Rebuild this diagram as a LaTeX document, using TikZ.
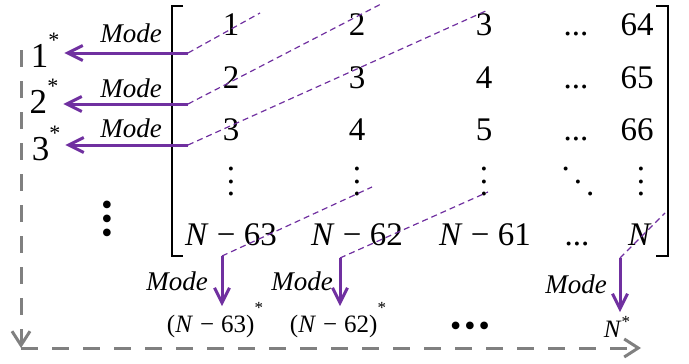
\documentclass[tikz,border=0pt]{standalone}
\usepackage{fontspec}
\setmainfont{Liberation Serif}
\usetikzlibrary{arrows.meta}
\definecolor{modepurple}{HTML}{7030A0}
\definecolor{loopgray}{HTML}{808080}
\newcommand{\vdts}{\vbox{\baselineskip=12.5pt\lineskiplimit=-100pt\hbox{.}\hbox{.}\hbox{.}}}
\newcommand{\ddts}{\hbox{\raisebox{12.5pt}{.}\kern4pt.\kern4pt\raisebox{-12.5pt}{.}}}
\newcommand{\bigvdts}{\vbox{\baselineskip=14pt\lineskiplimit=-100pt\hbox{•}\hbox{•}\hbox{•}}}
\newcommand{\supstar}[2]{\smash{\raisebox{#1}{\fontsize{#2}{#2}\selectfont *}}}
\newcommand{\wminus}{\hspace{0.28em}−\hspace{0.28em}}
\begin{document}
\begin{tikzpicture}[x=1pt, y=-1pt,
  ent/.style={font=\fontsize{33}{36}\selectfont, anchor=base, inner sep=0pt},
  modelbl/.style={font=\fontsize{27}{30}\selectfont\itshape, anchor=base, inner sep=0pt},
  outlbl/.style={font=\fontsize{25}{28}\selectfont, anchor=base},
  modearr/.style={draw=modepurple, line width=3pt, shorten >=5pt, -{Straight Barb[length=15pt,width=15pt]}},
  diag/.style={draw=modepurple, line width=1.2pt, dash pattern=on 6pt off 4pt},
  loopline/.style={draw=loopgray, line width=3pt, dash pattern=on 17pt off 14pt, -{Straight Barb[length=14pt,width=18pt]}}]
  \useasboundingbox (0,0) rectangle (689,364);
  % matrix
  \node[ent] (m11) at (231,35) {1};
  \node[ent] (m12) at (357,35) {2};
  \node[ent] (m13) at (484,35) {3};
  \node[ent] (m14) at (576,35) {...};
  \node[ent] (m15) at (637,35) {64};
  \node[ent] (m21) at (231,88) {2};
  \node[ent] (m22) at (357,88) {3};
  \node[ent] (m23) at (484,88) {4};
  \node[ent] (m24) at (576,88) {...};
  \node[ent] (m25) at (637,88) {65};
  \node[ent] (m31) at (231,140) {3};
  \node[ent] (m32) at (357,140) {4};
  \node[ent] (m33) at (484,140) {5};
  \node[ent] (m34) at (576,140) {...};
  \node[ent] (m35) at (637,140) {66};
  \node[ent, anchor=center] (m41) at (231,182) {\vdts};
  \node[ent, anchor=center] (m42) at (357,182) {\vdts};
  \node[ent, anchor=center] (m43) at (484,182) {\vdts};
  \node[ent, anchor=center] (m44) at (578,182) {\ddts};
  \node[ent, anchor=center] (m45) at (641,182) {\vdts};
  \node[ent] (m51) at (231,245) {\textit{N} − 63};
  \node[ent] (m52) at (357,245) {\textit{N} − 62};
  \node[ent] (m53) at (485,245) {\textit{N} − 61};
  \node[ent] (m54) at (577,245) {...};
  \node[ent] (m55) at (640,245) {\textit{N}};
  \draw[line width=1.4pt] (183,6) -- (172,6) -- (172,256) -- (183,256);
  \draw[line width=1.4pt] (656,6) -- (668,6) -- (668,256) -- (656,256);
  % left side
  \node[ent, font=\fontsize{35}{38}\selectfont] (s1) at (45,67) {1\supstar{20pt}{22}};
  \node[ent, font=\fontsize{35}{38}\selectfont] (s2) at (44,113) {2\supstar{20pt}{22}};
  \node[ent, font=\fontsize{35}{38}\selectfont] (s3) at (46,160) {3\supstar{20pt}{22}};
  \node[ent, anchor=center, font=\fontsize{32}{34}\selectfont] (sv) at (107,222) {\bigvdts};
  \coordinate (t1) at (188,53);
  \coordinate (t2) at (188,104);
  \coordinate (t3) at (188,145);
  \draw[modearr] (t1) -- (t1 -| s1.east);
  \draw[modearr] (t2) -- (t2 -| s2.east);
  \draw[modearr] (t3) -- (t3 -| s3.east);
  \node[modelbl] (k1) at (131,42) {Mode};
  \node[modelbl] (k2) at (131,97) {Mode};
  \node[modelbl] (k3) at (131,137) {Mode};
  \coordinate (d1) at (260,13);
  \coordinate (d2) at (383,3);
  \coordinate (d3) at (488,10);
  \draw[diag] (t1) -- (d1);
  \draw[diag] (t2) -- (d2);
  \draw[diag] (t3) -- (d3);
  % bottom side
  \node[outlbl] (o1) at (215,332) {(\textit{N}\wminus63)\supstar{19pt}{17}};
  \node[outlbl] (o2) at (338,332) {(\textit{N}\wminus62)\supstar{19pt}{17}};
  \node[outlbl, anchor=center, font=\fontsize{32}{34}\selectfont] (o0) at (470,329) {•\kern3pt•\kern3pt•};
  \node[outlbl] (o3) at (617,337) {\textit{N}\supstar{10pt}{17}};
  \coordinate (b1) at (222,256);
  \coordinate (b2) at (340,258);
  \coordinate (b3) at (620,258);
  \draw[modearr] (b1) -- (b1 |- o1.north);
  \draw[modearr] (b2) -- (b2 |- o2.north);
  \draw[modearr] (b3) -- (b3 |- o3.north);
  \node[modelbl] (k4) at (177,290) {Mode};
  \node[modelbl] (k5) at (302,290) {Mode};
  \node[modelbl] (k6) at (576,293) {Mode};
  \coordinate (e1) at (372,187);
  \coordinate (e2) at (488,192);
  \coordinate (e3) at (665,213);
  \draw[diag] (b1) -- (e1);
  \draw[diag] (b2) -- (e2);
  \draw[diag] (b3) -- (e3);
  % loop
  \coordinate (g0) at (21,50);
  \coordinate (g1) at (21,348);
  \coordinate (g2) at (641,348);
  \draw[loopline] (g0) -- (g1);
  \draw[loopline] (g1) -- (g2);
\end{tikzpicture}
\end{document}
